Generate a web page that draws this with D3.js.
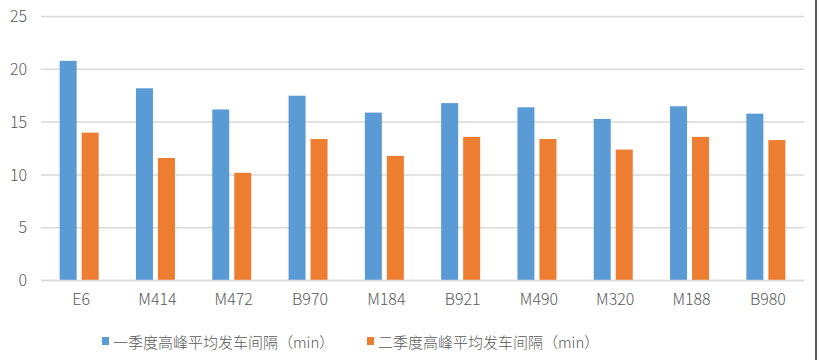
<!DOCTYPE html>
<html>
<head>
<meta charset="utf-8">
<script src="https://cdn.jsdelivr.net/npm/d3@7/dist/d3.min.js"></script>
<style>
  html, body { margin: 0; padding: 0; background: #fff; }
  svg { display: block; }
  text { font-family: "Noto Sans CJK SC", "DejaVu Sans", sans-serif; fill: #595959; font-weight: 300; }
</style>
</head>
<body>
<svg id="chart" width="820" height="360"></svg>
<script>
const categories = ["E6", "M414", "M472", "B970", "M184", "B921", "M490", "M320", "M188", "B980"];
const seriesNames = ["一季度高峰平均发车间隔（min）", "二季度高峰平均发车间隔（min）"];
const q1Values = [20.8, 18.2, 16.2, 17.5, 15.9, 16.8, 16.4, 15.3, 16.5, 15.8];
const q2Values = [14.0, 11.6, 10.2, 13.4, 11.8, 13.6, 13.4, 12.4, 13.6, 13.3];
const yTicks = [0, 5, 10, 15, 20, 25];
const colors = ["#5B9BD5", "#ED7D31"];

const svg = d3.select("#chart");
const plotLeft = 41, plotRight = 804, plotTop = 16.5, plotBottom = 280.5;

const x = d3.scaleBand().domain(categories).range([plotLeft, plotRight]).paddingInner(0).paddingOuter(0);
const y = d3.scaleLinear().domain([0, 25]).range([plotBottom, plotTop]);

// gridlines
svg.append("g").selectAll("line").data(yTicks).join("line")
  .attr("x1", plotLeft).attr("x2", plotRight)
  .attr("y1", d => y(d)).attr("y2", d => y(d))
  .attr("stroke", "#D9D9D9").attr("stroke-width", 1.5);

// y axis labels
const yAxis = d3.axisLeft(y).tickValues(yTicks).tickSize(0).tickPadding(0);
const yg = svg.append("g").attr("transform", `translate(${plotLeft - 14},0)`).call(yAxis);
yg.select(".domain").remove();
yg.selectAll("text").attr("font-size", 16).style("fill", "#595959")
  .attr("font-family", "'Noto Sans CJK SC', sans-serif").attr("font-weight", 300);

// x axis labels
const xAxis = d3.axisBottom(x).tickSize(0).tickPadding(0);
const xg = svg.append("g").attr("transform", `translate(2,${plotBottom + 13})`).call(xAxis);
xg.select(".domain").remove();
xg.selectAll("text").attr("font-size", 16).style("fill", "#595959")
  .attr("font-family", "'Noto Sans CJK SC', sans-serif").attr("font-weight", 300);

// bars
const barW = 17, gap = 5;
const series = [q1Values, q2Values];
series.forEach((vals, si) => {
  svg.append("g").selectAll("rect").data(categories).join("rect")
    .attr("x", (d) => x(d) + x.bandwidth() / 2 - (barW * 2 + gap) / 2 + si * (barW + gap))
    .attr("y", (d, i) => y(vals[i]))
    .attr("width", barW)
    .attr("height", (d, i) => y(0) - y(vals[i]))
    .attr("fill", colors[si]);
});

// baseline on top
svg.append("line").attr("x1", plotLeft).attr("x2", plotRight)
  .attr("y1", y(0)).attr("y2", y(0)).attr("stroke", "#D9D9D9").attr("stroke-width", 1.5);

// legend
const legendX = [102, 367];
const lg = svg.append("g");
seriesNames.forEach((name, i) => {
  lg.append("rect").attr("x", legendX[i]).attr("y", 337).attr("width", 7).attr("height", 8).attr("fill", colors[i]);
  lg.append("text").attr("x", legendX[i] + 11).attr("y", 341).attr("dominant-baseline", "central")
    .attr("font-size", 15).text(name);
});

// right frame edge
svg.append("line").attr("x1", 816).attr("x2", 816).attr("y1", 0).attr("y2", 360)
  .attr("stroke", "#222").attr("stroke-width", 1.5);
</script>
</body>
</html>
